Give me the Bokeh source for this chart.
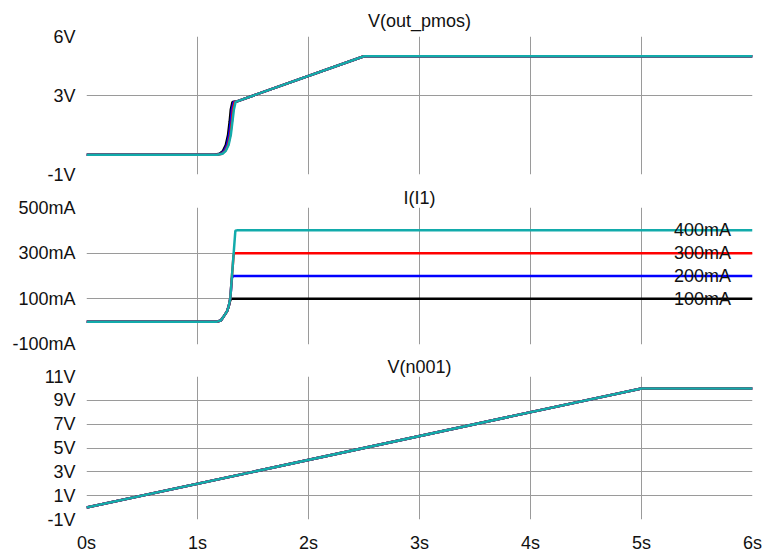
from bokeh.plotting import figure
from bokeh.layouts import column
from bokeh.models import FixedTicker, PrintfTickFormatter, Label, Range1d, Title
from bokeh.embed import file_html
from bokeh.resources import INLINE

# ---------------- data ----------------
# V(out_pmos) for the four current steps (black=100mA, blue=200mA, red=300mA, cyan=400mA)
t_out_black = [0, 1.15, 1.20, 1.23, 1.255, 1.275, 1.29, 1.30, 1.315, 1.35, 2.5, 6]
v_out_black = [0, 0, 0.05, 0.2, 0.5, 1.0, 1.7, 2.3, 2.68, 2.7, 5.0, 5.0]
t_out_blue = [0, 1.16, 1.21, 1.24, 1.265, 1.285, 1.30, 1.31, 1.325, 1.35, 2.5, 6]
v_out_blue = [0, 0, 0.05, 0.2, 0.5, 1.0, 1.7, 2.3, 2.68, 2.7, 5.0, 5.0]
t_out_red = [0, 1.17, 1.22, 1.25, 1.275, 1.295, 1.31, 1.32, 1.335, 1.35, 2.5, 6]
v_out_red = [0, 0, 0.05, 0.2, 0.5, 1.0, 1.7, 2.3, 2.68, 2.7, 5.0, 5.0]
t_out_cyan = [0, 1.176, 1.225, 1.255, 1.28, 1.30, 1.315, 1.328, 1.343, 1.35, 2.5, 6]
v_out_cyan = [0, 0, 0.05, 0.2, 0.5, 1.0, 1.7, 2.3, 2.68, 2.7, 5.0, 5.0]

# I(I1) in mA
t_i_black = [0, 1.176, 1.21, 1.236, 1.266, 1.281, 1.296, 1.305, 6]
i_black = [0, 0, 5, 23, 45, 67, 95, 100, 100]
t_i_blue = [0, 1.176, 1.21, 1.236, 1.266, 1.281, 1.296, 1.31, 1.32, 6]
i_blue = [0, 0, 5, 23, 45, 67, 105, 190, 200, 200]
t_i_red = [0, 1.176, 1.21, 1.236, 1.266, 1.281, 1.296, 1.31, 1.325, 1.332, 6]
i_red = [0, 0, 5, 23, 45, 67, 105, 197, 290, 300, 300]
t_i_cyan = [0, 1.176, 1.21, 1.236, 1.266, 1.281, 1.296, 1.31, 1.325, 1.341, 1.355, 6]
i_cyan = [0, 0, 5, 23, 45, 67, 105, 197, 295, 398, 400, 400]

# V(n001)
t_n001 = [0, 5, 6]
v_n001 = [0, 10, 10]

step_labels = ["400mA", "300mA", "200mA", "100mA"]
step_values = [400, 300, 200, 100]

x_ticks = [0, 1, 2, 3, 4, 5, 6]
y1_ticks = [-1, 3, 6]
y2_ticks = [-100, 100, 300, 500]
y3_ticks = [-1, 1, 3, 5, 7, 9, 11]

titles = ["V(out_pmos)", "I(I1)", "V(n001)"]

# ---------------- style ----------------
FONT = "Liberation Sans"
FS = "18px"
GRID = "#9a9a9a"
BLACK, BLUE, RED, CYAN = "#000000", "#0000ff", "#ff0000", "#12abab"
LW = 2.5
W = 763
LEFT = 86
RIGHT = W - 752

x_range = Range1d(0, 6)


def make_fig(frame_h, bt, bb, ylo, yhi, ticks, fmt, title, title_standoff, show_x):
    p = figure(width=W, height=bt + frame_h + bb, x_range=x_range,
               y_range=Range1d(ylo, yhi), output_backend="svg",
               toolbar_location=None, min_border_left=LEFT,
               min_border_right=RIGHT, min_border_top=bt,
               min_border_bottom=bb,
               x_axis_location="below" if show_x else None)
    p.outline_line_color = None
    p.background_fill_color = "white"
    p.border_fill_color = "white"
    p.title = Title(text=title, align="center", text_font=FONT,
                    text_font_size=FS, text_font_style="normal",
                    text_color="#111111", standoff=title_standoff)
    # y axis
    ax = p.yaxis[0]
    ax.ticker = FixedTicker(ticks=ticks)
    ax.formatter = PrintfTickFormatter(format=fmt)
    ax.axis_line_color = None
    ax.major_tick_line_color = None
    ax.minor_tick_line_color = None
    ax.major_tick_out = 0
    ax.major_tick_in = 0
    ax.major_label_standoff = 11
    ax.major_label_text_font = FONT
    ax.major_label_text_font_size = FS
    ax.major_label_text_color = "#111111"
    # grids
    p.ygrid.ticker = FixedTicker(ticks=ticks[1:-1])
    p.ygrid.grid_line_color = GRID
    p.xgrid.ticker = FixedTicker(ticks=x_ticks[1:-1])
    p.xgrid.grid_line_color = GRID
    if show_x:
        xa = p.xaxis[0]
        xa.ticker = FixedTicker(ticks=x_ticks)
        xa.formatter = PrintfTickFormatter(format="%ds")
        xa.axis_line_color = None
        xa.major_tick_line_color = None
        xa.minor_tick_line_color = None
        xa.major_tick_out = 0
        xa.major_tick_in = 0
        xa.major_label_standoff = 13
        xa.major_label_text_font = FONT
        xa.major_label_text_font_size = FS
        xa.major_label_text_color = "#111111"
    return p


p1 = make_fig(138, 36, 10, -1, 6, y1_ticks, "%dV", titles[0], 12, False)
for t, v, c in [(t_out_black, v_out_black, BLACK), (t_out_blue, v_out_blue, BLUE),
                (t_out_red, v_out_red, RED), (t_out_cyan, v_out_cyan, CYAN)]:
    p1.line(t, v, line_color=c, line_width=LW)

p2 = make_fig(137, 23, 9, -100, 500, y2_ticks, "%dmA", titles[1], 0, False)
for t, v, c in [(t_i_black, i_black, BLACK), (t_i_blue, i_blue, BLUE),
                (t_i_red, i_red, RED), (t_i_cyan, i_cyan, CYAN)]:
    p2.line(t, v, line_color=c, line_width=LW)
for txt, val in zip(step_labels, step_values):
    p2.add_layout(Label(x=5.55, y=val, text=txt, text_align="center",
                        text_baseline="alphabetic", text_font=FONT,
                        text_font_size=FS, text_color="#111111"))

p3 = make_fig(144, 23, 35, -1, 11, y3_ticks, "%dV", titles[2], 0, True)
for c in [BLACK, BLUE, RED, CYAN]:
    p3.line(t_n001, v_n001, line_color=c, line_width=LW)

layout = column(p1, p2, p3, spacing=0)

open("out.html", "w").write(file_html(layout, INLINE))
